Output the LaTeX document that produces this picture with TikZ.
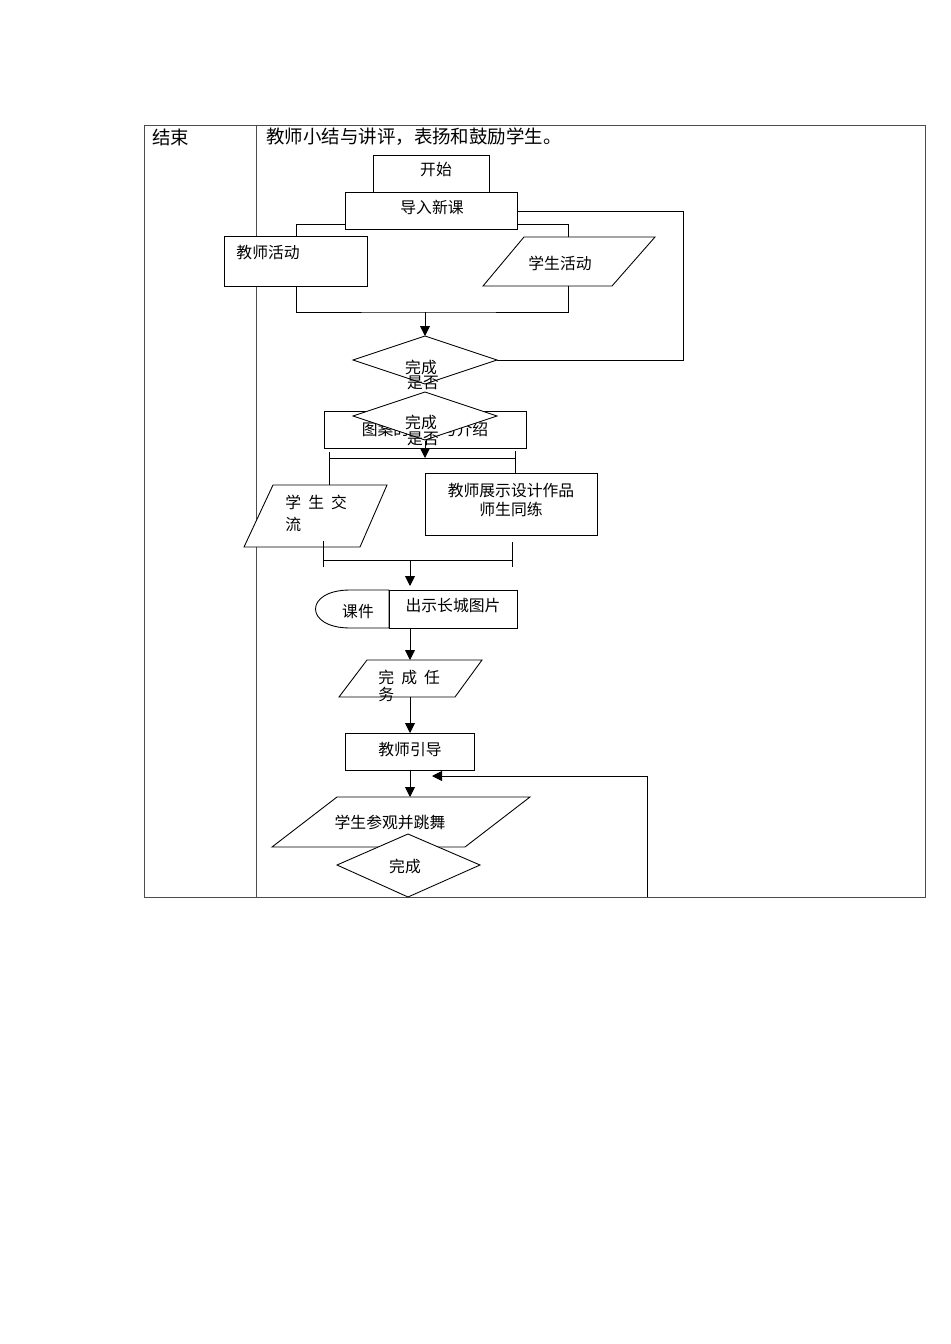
\documentclass[tikz,border=0pt]{standalone}
\usepackage{fontspec}
\setmainfont{Noto Sans CJK SC}
\usetikzlibrary{arrows.meta}

\begin{document}
\begin{tikzpicture}[x=0.02cm,y=-0.02cm,line width=0.5pt,
  rule/.style={black!70},
  shp/.style={draw,fill=white},
  txt/.style={font=\fontsize{9pt}{10.5pt}\selectfont,inner sep=0pt},
  arr/.style={-{Triangle[length=2mm,width=2mm]}}]
  \useasboundingbox (0,0) rectangle (950,1344);
  % table
  \draw[rule] (144,125) rectangle (925,897);
  \draw[rule] (256,125) -- (256,897);
  \node[font=\fontsize{10.5pt}{12pt}\selectfont,inner sep=0pt,anchor=west] (stage) at (152,137) {结束};
  \node[font=\fontsize{10.5pt}{12pt}\selectfont,inner sep=0pt,anchor=west] (summary) at (266,137) {教师小结与讲评，表扬和鼓励学生。};

  % start / intro
  \draw[shp] (373,155) rectangle (489,192);
  \node[txt] (start) at (436,170) {开始};
  \draw[shp] (345,192) rectangle (517,229);
  \node[txt] (intro) at (432,207) {导入新课};
  \coordinate (introL) at (345,224);
  \coordinate (introR) at (517,224);
  \coordinate (introE) at (517,211);

  % two activities
  \coordinate (teachT) at (296,236);
  \coordinate (studT) at (568,237);
  \draw (introL) -| (teachT);
  \draw (introR) -| (studT);
  \draw[shp] (224,236) rectangle (367,286);
  \node[txt,anchor=west] (teach) at (236,253) {教师活动};
  \draw[shp] (524,237) -- (655,237) -- (612,286) -- (483,286) -- cycle;
  \node[txt] (stud) at (560,263) {学生活动};
  \coordinate (teachB) at (296,286);
  \coordinate (studB) at (568,286);
  \coordinate (joinA) at (425,312);
  \draw (teachB) |- (joinA) -| (studB);

  % first check
  \coordinate (chk1T) at (425,336);
  \coordinate (chk1R) at (497,360);
  \coordinate (loopC) at (683,211);
  \draw[arr] (joinA) -- (chk1T);
  \draw[shp] (chk1T) -- (chk1R) -- (425,384) -- (353,360) -- cycle;
  \draw (chk1R) -| (loopC) -- (introE);
  \node[txt] (chk1a) at (421,367) {完成};

  % pattern box and second check
  \draw[shp] (324,411) rectangle (526,448);
  \node[txt] (pattern) at (425,429) {图案的欣赏与介绍};
  \draw[shp] (425,392) -- (497,416) -- (425,440) -- (353,416) -- cycle;
  \node[txt] (chk1b) at (423,383) {是否};
  \node[txt] (chk2a) at (421,422) {完成};
  \node[txt] (chk2b) at (423,439) {是否};
  \coordinate (chk2B) at (425,441);
  \coordinate (splitC) at (425,458);
  \draw[arr] (chk2B) -- (splitC);
  \coordinate (splitL) at (329,458);
  \coordinate (splitR) at (515,458);
  \draw (splitL) -- (splitR);
  \draw (329,452) -- (329,485);
  \draw (515,451) -- (515,473);

  % exchange / demo
  \draw[shp] (273,485) -- (387,485) -- (360,547) -- (244,547) -- cycle;
  \node[txt,anchor=north west,align=left] (talk) at (285,495) {学\ \ 生\ \ 交\\[2pt]流};
  \draw[shp] (425,473) rectangle (597,535);
  \node[txt,align=center,font=\fontsize{9pt}{11pt}\selectfont] (demo) at (511,500) {教师展示设计作品\\师生同练};
  \draw (323,541) -- (323,567);
  \draw (512,542) -- (512,567);
  \coordinate (mergeL) at (323,560);
  \coordinate (mergeR) at (512,560);
  \coordinate (mergeC) at (410,560);
  \draw (mergeL) -- (mergeR);
  \coordinate (showT) at (410,586);
  \draw[arr] (mergeC) -- (showT);

  % courseware
  \draw[shp] (389,590) -- (350,590) .. controls (304,590) and (304,628) .. (350,628) -- (389,628) -- cycle;
  \draw[shp] (389,590) rectangle (517,628);
  \node[txt] (ware) at (358,612) {课件};
  \node[txt] (show) at (453,606) {出示长城图片};
  \coordinate (showB) at (410,628);
  \coordinate (taskT) at (410,660);
  \draw[arr] (showB) -- (taskT);

  % task
  \draw[shp] (367,660) -- (482,660) -- (455,697) -- (339,697) -- cycle;
  \node[txt,anchor=north west,align=left,font=\fontsize{9pt}{9.5pt}\selectfont] (task) at (378,670) {完\ \ 成\ \ 任\\务};
  \coordinate (taskB) at (410,697);
  \coordinate (guideT) at (410,733);
  \draw[arr] (taskB) -- (guideT);

  % guide
  \draw[shp] (345,733) rectangle (474,770);
  \node[txt] (guide) at (410,750) {教师引导};
  \coordinate (guideB) at (410,770);
  \coordinate (visitT) at (410,797);
  \draw[arr] (guideB) -- (visitT);
  \coordinate (backB) at (647,897);
  \coordinate (backE) at (432,776);
  \draw[arr] (backB) |- (backE);

  % visit and dance
  \draw[shp] (337,797) -- (530,797) -- (465,847) -- (272,847) -- cycle;
  \node[txt] (visit) at (390,822) {学生参观并跳舞};
  \draw[shp] (408,834) -- (480,865) -- (408,897) -- (337,865) -- cycle;
  \node[txt] (done) at (405,866) {完成};
\end{tikzpicture}
\end{document}
